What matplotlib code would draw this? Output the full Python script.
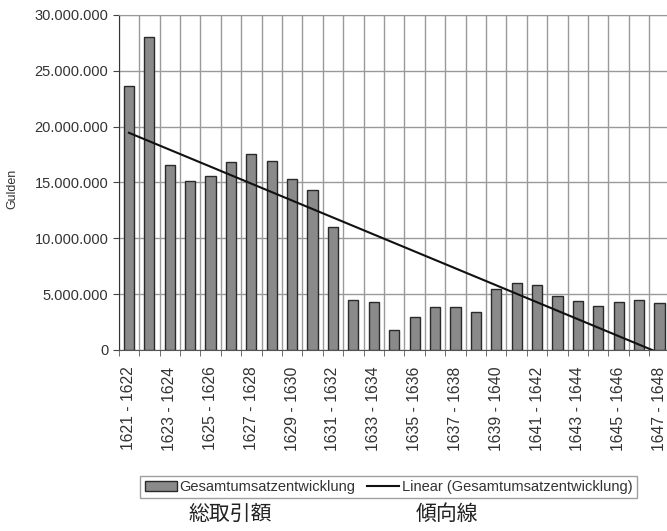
import matplotlib
matplotlib.use("Agg")
import matplotlib.pyplot as plt
import numpy as np
from matplotlib.ticker import FuncFormatter, FixedLocator

categories = ["1621 - 1622", "1622 - 1623", "1623 - 1624", "1624 - 1625", "1625 - 1626",
              "1626 - 1627", "1627 - 1628", "1628 - 1629", "1629 - 1630", "1630 - 1631",
              "1631 - 1632", "1632 - 1633", "1633 - 1634", "1634 - 1635", "1635 - 1636",
              "1636 - 1637", "1637 - 1638", "1638 - 1639", "1639 - 1640", "1640 - 1641",
              "1641 - 1642", "1642 - 1643", "1643 - 1644", "1644 - 1645", "1645 - 1646",
              "1646 - 1647", "1647 - 1648"]
values = [23.65, 28.0, 16.6, 15.1, 15.6, 16.8, 17.5, 16.9, 15.3, 14.3,
          11.0, 4.44, 4.3, 1.76, 2.95, 3.8, 3.8, 3.4, 5.5, 6.0,
          5.8, 4.86, 4.4, 3.93, 4.26, 4.47, 4.24]  # millions of Gulden
values = [v * 1e6 for v in values]
shown_labels = categories[::2]
yticks = [0, 5e6, 10e6, 15e6, 20e6, 25e6, 30e6]

plt.rcParams['font.family'] = ['Liberation Sans', 'DejaVu Sans']

fig = plt.figure(figsize=(6.67, 5.31), dpi=100)
ax = fig.add_axes([0.178, 0.341, 0.826, 0.631])

n = len(categories)
x = np.arange(1, n + 1)
bars = ax.bar(x, values, width=0.5, color='#8a8a8a', edgecolor='#2a2a2a', linewidth=1.0,
              label='Gesamtumsatzentwicklung', zorder=3)

coef = np.polyfit(x, values, 1)
trend = np.polyval(coef, x)
line, = ax.plot(x, trend, color='#111111', lw=1.5, label='Linear (Gesamtumsatzentwicklung)', zorder=4)

ax.set_xlim(0.5, n + 0.5)
ax.set_ylim(0, 30e6)
ax.set_yticks(yticks)
ax.yaxis.set_major_formatter(FuncFormatter(lambda v, p: f"{int(v):,}".replace(",", ".")))
ax.set_xticks(x[::2])
ax.set_xticklabels(shown_labels, rotation=90, fontsize=11.3, color='#333333')
ax.xaxis.set_minor_locator(FixedLocator(np.arange(0.5, n + 1.0, 1.0)))
ax.tick_params(axis='x', which='major', length=0, pad=12)
ax.tick_params(axis='x', which='minor', length=4, color='#555555', direction='out')
ax.tick_params(axis='y', labelsize=10.5, labelcolor='#333333', length=4, color='#444444')
ax.grid(True, axis='y', which='major', color='#9a9a9a', lw=1.0, zorder=0)
ax.grid(True, axis='x', which='minor', color='#9a9a9a', lw=1.0, zorder=0)
ax.grid(False, axis='x', which='major')
for s in ['top', 'right']:
    ax.spines[s].set_color('#999999')
ax.spines['left'].set_color('#333333')
ax.spines['bottom'].set_color('#555555')
ax.set_ylabel('Gulden', fontsize=9, color='#333333')
ax.yaxis.set_label_coords(-0.183, 0.48)

leg = fig.legend([bars, line], ['Gesamtumsatzentwicklung', 'Linear (Gesamtumsatzentwicklung)'],
                 loc='center', bbox_to_anchor=(0.583, 0.083), ncol=2, fontsize=10.5,
                 frameon=True, fancybox=False, edgecolor='#888888', handlelength=2.2,
                 handletextpad=0.2, columnspacing=0.8, borderpad=0.3)
for t in leg.get_texts():
    t.set_color('#333333')

fig.text(0.345, 0.032, '総取引額', fontsize=15, ha='center', va='center',
         family=['Noto Sans CJK JP', 'DejaVu Sans'], color='#222222')
fig.text(0.670, 0.032, '傾向線', fontsize=15, ha='center', va='center',
         family=['Noto Sans CJK JP', 'DejaVu Sans'], color='#222222')

fig.savefig('out.png', dpi=100)
